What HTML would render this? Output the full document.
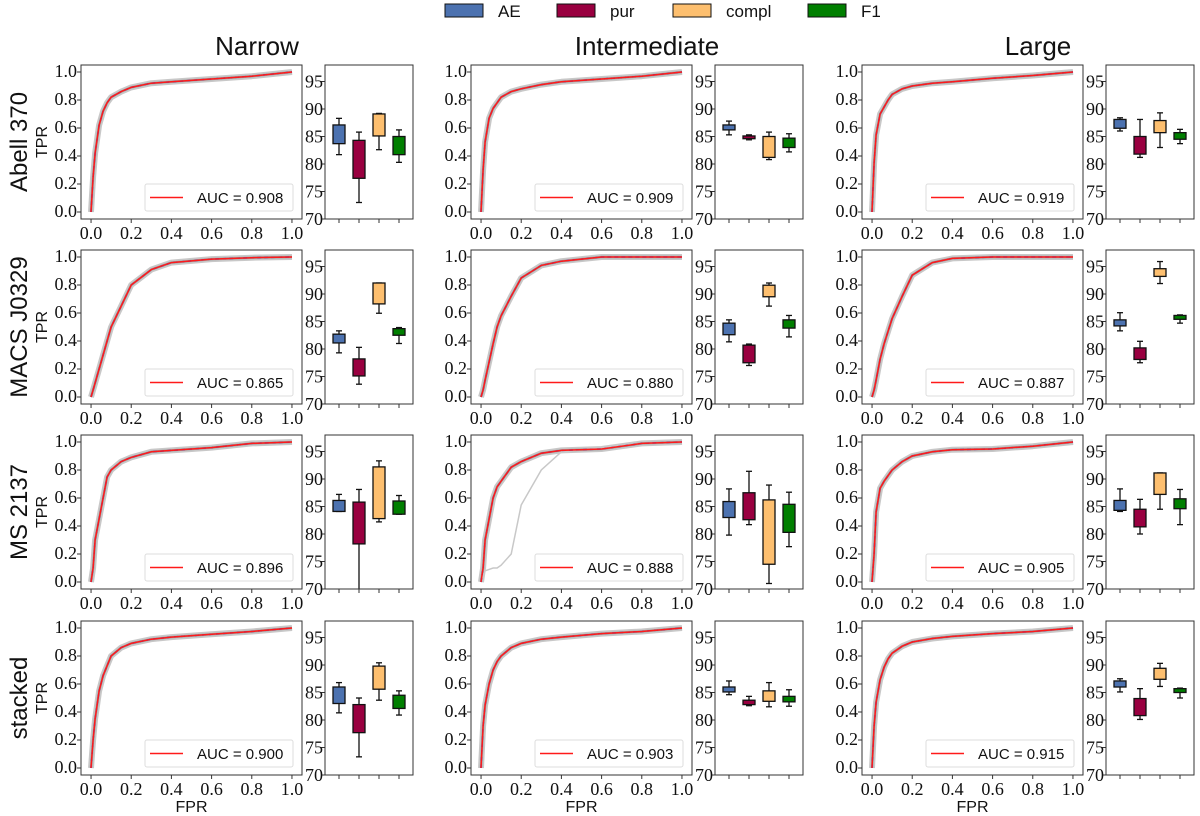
<!DOCTYPE html>
<html><head><meta charset="utf-8">
<style>
html,body{margin:0;padding:0;background:#fff;}
svg{display:block;}
.tk{font-family:"Liberation Serif",serif;font-size:18px;fill:#111;}
.sn{font-family:"Liberation Sans",sans-serif;fill:#111;}
</style></head>
<body>
<svg id="fig" width="1200" height="816" viewBox="0 0 1200 816" xmlns="http://www.w3.org/2000/svg"></svg>
<script>
// ---- data ----
const rowNames = ["Abell 370","MACS J0329","MS 2137","stacked"];
const colNames = ["Narrow","Intermediate","Large"];
const metricNames = ["AE","pur","compl","F1"];
const metricColors = ["#4c72b0","#990040","#fdbf6f","#007f00"];
const fprGrid = [0,0.01,0.02,0.04,0.06,0.08,0.1,0.15,0.2,0.3,0.4,0.6,0.8,1.0];
const xTicks = [0,0.2,0.4,0.6,0.8,1.0];
const yTicks = [0,0.2,0.4,0.6,0.8,1.0];
const boxTicks = [70,75,80,85,90,95];
const aucValues = [["0.908","0.909","0.919"],["0.865","0.880","0.887"],["0.896","0.888","0.905"],["0.900","0.903","0.915"]];
const tprMean = [
 [[0,0.25,0.42,0.62,0.72,0.78,0.82,0.86,0.89,0.92,0.93,0.95,0.97,1],
  [0,0.3,0.5,0.67,0.74,0.78,0.82,0.86,0.88,0.91,0.93,0.95,0.97,1],
  [0,0.35,0.55,0.7,0.75,0.8,0.84,0.88,0.9,0.92,0.93,0.955,0.975,1]],
 [[0,0.05,0.1,0.2,0.3,0.4,0.5,0.65,0.8,0.91,0.96,0.985,0.995,1],
  [0,0.05,0.12,0.25,0.38,0.5,0.58,0.72,0.85,0.94,0.97,1,1,1],
  [0,0.05,0.12,0.27,0.38,0.47,0.56,0.72,0.87,0.96,0.99,1,1,1]],
 [[0,0.1,0.3,0.45,0.6,0.75,0.8,0.86,0.89,0.93,0.94,0.96,0.99,1],
  [0,0.1,0.3,0.45,0.6,0.68,0.72,0.82,0.86,0.92,0.94,0.95,0.99,1],
  [0,0.2,0.5,0.67,0.72,0.76,0.8,0.86,0.9,0.93,0.945,0.95,0.97,1]],
 [[0,0.2,0.35,0.55,0.66,0.73,0.8,0.86,0.89,0.92,0.935,0.955,0.975,1],
  [0,0.3,0.45,0.6,0.7,0.76,0.8,0.86,0.89,0.92,0.935,0.96,0.975,1],
  [0,0.3,0.47,0.63,0.72,0.78,0.82,0.87,0.9,0.925,0.94,0.96,0.975,1]]
];
const outlierTpr = [0,0.05,0.08,0.09,0.1,0.1,0.12,0.2,0.55,0.8,0.93,0.96,0.99,1]; // MS 2137 intermediate
// boxes: [whiskerLow, q1, q3, whiskerHigh]
const boxStats = [
 [[[81.7,83.7,87.1,88.3],[73,77.4,84.3,85.8],[82.6,85.1,89.1,89.2],[80.3,81.7,85,86.2]],
  [[85.3,86.2,87.1,87.8],[84.4,84.6,85.1,85.3],[80.8,81.2,85,85.8],[82.2,83,84.7,85.5]],
  [[86,86.5,88.1,88.4],[81.2,81.8,85,88.1],[83,85.7,87.9,89.3],[83.7,84.5,85.7,86.3]]],
 [[[79.3,81.1,82.7,83.3],[73.6,75.1,78.2,80.3],[86.5,88.2,92,92],[81,82.5,83.7,83.9]],
  [[81.3,82.6,84.7,85.3],[77,77.5,80.7,80.9],[87.8,89.5,91.6,92],[82.2,83.8,85.3,86.1]],
  [[83.3,84.2,85.3,86.6],[77.5,78.1,80.2,81.4],[91.9,93.2,94.6,95.9],[84.7,85.4,86.1,86.2]]],
 [[[84.1,84.1,86.1,87.2],[68,78.2,85.8,88.1],[82.2,82.8,92.2,93.3],[83.6,83.6,86,87]],
  [[79.8,83,85.9,88.2],[81.7,82.6,87.5,91.4],[71,74.5,86.2,88.9],[77.7,80.3,85.4,87.6]],
  [[84.1,84.3,86.1,88.2],[80,81.3,84.5,86.3],[84.5,87.2,91.1,91.1],[81.7,84.6,86.4,88.1]]],
 [[[81.3,83,86,86.8],[73.3,77.7,82.8,84],[83.6,85.6,89.8,90.4],[80.9,82.1,84.5,85.3]],
  [[84.6,85.1,86,87.1],[82.6,82.8,83.6,84.3],[82.4,83.4,85.3,86.8],[82.5,83.3,84.3,85.5]],
  [[85.1,86,87.1,87.5],[80.1,80.8,83.9,85.7],[86.1,87.4,89.4,90.3],[84,85,85.7,85.8]]]
];

// ---- layout ----
const NS="http://www.w3.org/2000/svg";
const svg=document.getElementById('fig');
const colX=[81,471,862], rowY=[65,250,435,621];
const RW=221, RH=154, BOFF=244, BW=88;
function el(tag,attrs,parent,text){const e=document.createElementNS(NS,tag);for(const k in attrs)e.setAttribute(k,attrs[k]);if(text!==undefined)e.textContent=text;(parent||svg).appendChild(e);return e;}

// legend
const lx=[445,557,673,808];
metricNames.forEach((m,i)=>{
  const g=el('g',{});
  
  
  el('rect',{x:lx[i],y:4,width:38,height:13,fill:metricColors[i],stroke:'#111','stroke-width':1},g);
  el('text',{x:lx[i]+53,y:17,class:'sn','font-size':17},g,m);
});

// column titles
const titleX=[257,647,1038];
colNames.forEach((c,i)=>{
  const t=el('text',{x:titleX[i],y:55,class:'sn','font-size':26,'text-anchor':'middle'},svg,c);
  
  
});

rowNames.forEach((rn,r)=>{
  const y0=rowY[r];
  const rl=el('text',{x:0,y:0,class:'sn','font-size':24,'text-anchor':'middle',transform:`translate(27,${y0+RH/2}) rotate(-90)`},svg,rn);
  
  
  const tl=el('text',{x:0,y:0,class:'sn','font-size':16,'text-anchor':'middle',transform:`translate(47,${y0+RH/2}) rotate(-90)`},svg,'TPR');
  
  

  colNames.forEach((cn,c)=>{
    const x0=colX[c];
    const sx=v=>x0+(v+0.05)/1.1*RW;
    const sy=v=>y0+RH-(v+0.05)/1.1*RH;
    const g=el('g',{});
    
    
    el('rect',{x:x0,y:y0,width:RW,height:RH,fill:'#fff'},g);
    const pts=tprMean[r][c].map((t,i)=>sx(fprGrid[i]).toFixed(1)+','+sy(t).toFixed(1)).join(' ');
    const band=el('polyline',{points:pts,fill:'none',stroke:'#c8c8c8','stroke-width':6,'stroke-linejoin':'round'},g);
    
    
    el('polyline',{points:pts,fill:'none',stroke:'#888','stroke-width':2.5,'stroke-linejoin':'round',opacity:0.6},g);
    if(r===2&&c===1){
      const op=outlierTpr.map((t,i)=>sx(fprGrid[i]).toFixed(1)+','+sy(t).toFixed(1)).join(' ');
      const o=el('polyline',{points:op,fill:'none',stroke:'#c8c8c8','stroke-width':1.5},g);
      
      
    }
    el('polyline',{points:pts,fill:'none',stroke:'#2233dd','stroke-width':1.5,'stroke-dasharray':'4,3'},g);
    const mean=el('polyline',{points:pts,fill:'none',stroke:'#ff1a1a','stroke-width':1.5},g);
    
    
    el('rect',{x:x0,y:y0,width:RW,height:RH,fill:'none',stroke:'#333','stroke-width':1},g);
    xTicks.forEach(v=>{
      el('line',{x1:sx(v),x2:sx(v),y1:y0+RH,y2:y0+RH+4,stroke:'#333'},g);
      el('text',{x:sx(v),y:y0+RH+20,class:'tk','text-anchor':'middle'},g,v.toFixed(1));
    });
    yTicks.forEach(v=>{
      el('line',{x1:x0-4,x2:x0,y1:sy(v),y2:sy(v),stroke:'#333'},g);
      el('text',{x:x0-4,y:sy(v)+5,class:'tk','text-anchor':'end'},g,v.toFixed(1));
    });
    const lg=el('g',{},g);
    
    
    el('rect',{x:x0+64,y:y0+119,width:148,height:27,rx:2,fill:'#fff',stroke:'#ddd'},lg);
    el('line',{x1:x0+69,x2:x0+102,y1:y0+132.5,y2:y0+132.5,stroke:'#ff1a1a','stroke-width':1.5},lg);
    el('text',{x:x0+116,y:y0+138,class:'sn','font-size':15},lg,'AUC = '+aucValues[r][c]);
    if(r===3){
      const ft=el('text',{x:x0+RW/2,y:y0+RH+37,class:'sn','font-size':16,'text-anchor':'middle'},svg,'FPR');
      
      
    }

    // box panel
    const bx0=x0+BOFF;
    const bsx=v=>bx0+(v-0.3)/4.4*BW;
    const bsy=v=>y0+RH-(v-70)/28*RH;
    const bg=el('g',{});
    
    
    el('rect',{x:bx0,y:y0,width:BW,height:RH,fill:'#fff'},bg);
    const cp=el('clipPath',{id:'cp'+r+c},bg);
    el('rect',{x:bx0,y:y0,width:BW,height:RH},cp);
    const inner=el('g',{'clip-path':`url(#cp${r}${c})`},bg);
    boxStats[r][c].forEach((s,i)=>{
      const cx=bsx(i+1), hw=0.3/4.4*BW;
      const b=el('g',{},inner);
      
      
      el('line',{x1:cx,x2:cx,y1:bsy(s[0]),y2:bsy(s[1]),stroke:'#111','stroke-width':1.3},b);
      el('line',{x1:cx,x2:cx,y1:bsy(s[2]),y2:bsy(s[3]),stroke:'#111','stroke-width':1.3},b);
      el('line',{x1:cx-hw/2,x2:cx+hw/2,y1:bsy(s[0]),y2:bsy(s[0]),stroke:'#111','stroke-width':1.3},b);
      el('line',{x1:cx-hw/2,x2:cx+hw/2,y1:bsy(s[3]),y2:bsy(s[3]),stroke:'#111','stroke-width':1.3},b);
      el('rect',{x:cx-hw,y:bsy(s[2]),width:2*hw,height:Math.max(1,bsy(s[1])-bsy(s[2])),fill:metricColors[i],stroke:'#111','stroke-width':1.3},b);
    });
    el('rect',{x:bx0,y:y0,width:BW,height:RH,fill:'none',stroke:'#333','stroke-width':1},bg);
    [1,2,3,4].forEach(v=>el('line',{x1:bsx(v),x2:bsx(v),y1:y0+RH,y2:y0+RH+4,stroke:'#333'},bg));
    boxTicks.forEach(v=>{
      el('line',{x1:bx0-4,x2:bx0,y1:bsy(v),y2:bsy(v),stroke:'#333'},bg);
      el('text',{x:bx0-2,y:bsy(v)+6,class:'tk','text-anchor':'end'},bg,String(v));
    });
  });
});
</script>
</body></html>
